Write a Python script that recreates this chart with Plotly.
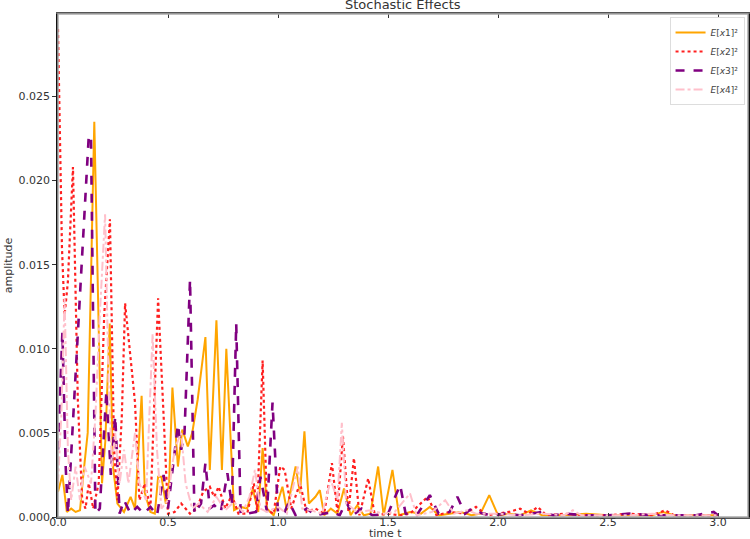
import plotly.graph_objects as go

# ---- data ----
t_x1 = [0.00,0.02,0.04,0.06,0.08,0.10,0.115,0.135,0.165,0.185,0.20,0.215,0.235,0.25,0.27,0.30,0.33,0.35,0.38,0.395,0.42,0.44,0.455,0.47,0.49,0.505,0.52,0.545,0.565,0.59,0.61,0.635,0.67,0.69,0.72,0.745,0.765,0.80,0.83,0.86,0.885,0.91,0.93,0.95,0.98,1.02,1.04,1.08,1.10,1.12,1.14,1.17,1.19,1.21,1.24,1.27,1.30,1.33,1.36,1.39,1.42,1.455,1.48,1.52,1.55,1.60,1.65,1.69,1.73,1.78,1.83,1.88,1.92,1.96,2.00,2.05,2.10,2.15,2.20,2.30,2.40,2.50,2.60,2.70,2.75,2.80,2.90,3.00]
y_x1 = [0.0015,0.0025,0.0003,0.0005,0.0003,0.0004,0.0025,0.005,0.0235,0.011,0.002,0.0045,0.0115,0.003,0.0008,0.0003,0.0012,0.0005,0.0072,0.0014,0.0003,0.0002,0.0024,0.0024,0.0008,0.002,0.0077,0.003,0.0052,0.0042,0.005,0.007,0.0107,0.0028,0.0117,0.0028,0.0100,0.0004,0.0006,0.0005,0.0017,0.0003,0.0041,0.0005,0.0001,0.0018,0.0004,0.003,0.0014,0.0051,0.0008,0.0012,0.0016,0.0001,0.0005,0.0002,0.0017,0.0001,0.0007,0.0001,0.0002,0.003,0.0001,0.0028,0.0001,0.0003,0.0002,0.0006,0.0001,0.0002,0.0003,0.0001,0.0002,0.0013,0.0001,0.0002,0.0001,0.0004,0.0001,0.0001,0.0002,0.0001,0.0001,0.0001,0.0003,0.0001,0.0001,0.0001]

t_x2 = [0.00,0.008,0.018,0.03,0.045,0.068,0.09,0.11,0.125,0.14,0.16,0.185,0.21,0.236,0.255,0.27,0.29,0.305,0.33,0.35,0.37,0.395,0.42,0.455,0.48,0.50,0.53,0.56,0.60,0.63,0.66,0.69,0.71,0.73,0.76,0.79,0.82,0.86,0.89,0.905,0.93,0.95,0.98,1.01,1.03,1.06,1.10,1.13,1.17,1.21,1.245,1.27,1.295,1.32,1.345,1.37,1.41,1.44,1.50,1.55,1.60,1.68,1.72,1.78,1.85,1.90,1.95,2.00,2.05,2.10,2.14,2.18,2.22,2.30,2.40,2.50,2.60,2.70,2.76,2.80,2.90,3.00]
y_x2 = [0.0290,0.024,0.016,0.012,0.014,0.0208,0.007,0.001,0.0005,0.002,0.0005,0.002,0.012,0.0177,0.004,0.001,0.006,0.0127,0.0095,0.0068,0.001,0.002,0.0005,0.013,0.006,0.0002,0.0003,0.0008,0.0002,0.0005,0.0015,0.0018,0.0012,0.0018,0.0005,0.0013,0.0002,0.0002,0.002,0.0004,0.0093,0.0004,0.0002,0.003,0.0028,0.0005,0.002,0.0003,0.0005,0.0002,0.0032,0.0003,0.0048,0.0003,0.0035,0.0001,0.0023,0.0001,0.0002,0.0001,0.0002,0.0012,0.0001,0.0003,0.0002,0.0006,0.0001,0.0002,0.0003,0.0005,0.0002,0.0006,0.0001,0.0002,0.0001,0.0001,0.0002,0.0001,0.0004,0.0001,0.0001,0.0001]

t_x3 = [0.00,0.02,0.035,0.045,0.14,0.15,0.17,0.19,0.22,0.24,0.26,0.28,0.30,0.33,0.36,0.39,0.42,0.45,0.48,0.50,0.545,0.56,0.575,0.60,0.62,0.65,0.67,0.69,0.71,0.74,0.77,0.79,0.81,0.83,0.86,0.90,0.92,0.95,0.975,1.00,1.03,1.05,1.08,1.13,1.17,1.25,1.28,1.31,1.34,1.38,1.43,1.50,1.555,1.58,1.63,1.69,1.73,1.78,1.815,1.85,1.88,1.93,1.98,2.03,2.10,2.20,2.25,2.30,2.40,2.50,2.60,2.70,2.80,2.90,2.98,3.00]
y_x3 = [0.004,0.011,0.003,0.0002,0.0227,0.0225,0.0002,0.0005,0.0075,0.0025,0.006,0.0002,0.001,0.0002,0.0006,0.0002,0.0006,0.0001,0.0025,0.0005,0.0055,0.004,0.005,0.0141,0.0002,0.0008,0.0032,0.0005,0.0007,0.0003,0.0026,0.0007,0.0115,0.0002,0.0002,0.0003,0.0024,0.0003,0.0068,0.0002,0.0003,0.0009,0.0001,0.0005,0.0001,0.0003,0.0001,0.0009,0.0001,0.0005,0.0001,0.0002,0.0019,0.0002,0.0001,0.0013,0.0002,0.0003,0.0012,0.0002,0.0005,0.0002,0.0001,0.0002,0.0001,0.0003,0.0001,0.0002,0.0001,0.0001,0.0002,0.0001,0.0001,0.0001,0.0003,0.0001]

t_x4 = [0.00,0.015,0.03,0.045,0.06,0.08,0.10,0.12,0.15,0.17,0.19,0.214,0.23,0.245,0.26,0.28,0.30,0.32,0.35,0.37,0.40,0.43,0.45,0.47,0.50,0.52,0.535,0.56,0.58,0.61,0.64,0.68,0.72,0.76,0.80,0.84,0.87,0.895,0.92,0.95,1.00,1.04,1.09,1.11,1.15,1.20,1.24,1.27,1.29,1.31,1.36,1.42,1.48,1.53,1.60,1.63,1.70,1.76,1.80,1.86,1.90,2.00,2.10,2.20,2.30,2.34,2.38,2.50,2.60,2.70,2.80,2.90,3.00]
y_x4 = [0.002,0.006,0.013,0.004,0.001,0.003,0.001,0.003,0.002,0.006,0.012,0.018,0.008,0.003,0.005,0.002,0.004,0.002,0.005,0.002,0.001,0.0109,0.004,0.0005,0.001,0.0032,0.0042,0.005,0.002,0.0005,0.0008,0.0003,0.0012,0.0004,0.0009,0.0003,0.0012,0.0028,0.0005,0.0003,0.0006,0.0002,0.003,0.0005,0.0004,0.0002,0.0022,0.001,0.0056,0.0008,0.0003,0.0004,0.0002,0.0003,0.0014,0.0001,0.0003,0.001,0.0002,0.0004,0.0002,0.0002,0.0001,0.0002,0.0001,0.0004,0.0001,0.0001,0.0001,0.0002,0.0001,0.0001,0.0001]

names = ["<i>E</i>[<i>x</i>1]²", "<i>E</i>[<i>x</i>2]²",
         "<i>E</i>[<i>x</i>3]²", "<i>E</i>[<i>x</i>4]²"]

x_ticks = [0.0, 0.5, 1.0, 1.5, 2.0, 2.5, 3.0]
y_ticks = [0.000, 0.005, 0.010, 0.015, 0.020, 0.025]

FONT = "DejaVu Sans"
fig = go.Figure()
series = [
    (t_x1, y_x1, names[0], "#FFA500", "solid", 2),
    (t_x2, y_x2, names[1], "#FF2020", "dot", 2.2),
    (t_x3, y_x3, names[2], "#800080", "dash", 2.6),
    (t_x4, y_x4, names[3], "#FFC0CB", "dashdot", 2),
]
for t, y, n, c, d, w in series:
    fig.add_trace(go.Scatter(x=t, y=y, mode="lines", name=n,
                             line=dict(color=c, dash=d, width=w)))

fig.update_layout(
    width=750, height=539,
    margin=dict(l=58, r=2, t=14, b=22),
    paper_bgcolor="white", plot_bgcolor="white",
    font=dict(family=FONT, size=11, color="#333"),
    title=dict(text="Stochastic Effects", x=0.537, xanchor="center",
               y=0.992, yanchor="middle", font=dict(size=13, color="#333")),
    showlegend=True,
    legend=dict(x=0.995, y=0.994, xanchor="right", yanchor="top",
                bgcolor="white", bordercolor="#ddd", borderwidth=1,
                font=dict(size=9, color="#444"), tracegroupgap=0,
                itemwidth=30),
    shapes=[dict(type="rect", xref="paper", yref="paper", x0=0, y0=0, x1=1, y1=1,
                 line=dict(color="#aaa", width=1.5), layer="above")],
    annotations=[dict(text="time t", xref="paper", yref="paper", x=0.475, y=-0.032,
                      xanchor="center", yanchor="middle", showarrow=False,
                      font=dict(size=11, color="#333"))],
)
fig.update_xaxes(range=[0, 3.136], tickvals=x_ticks,
                 ticktext=[f"{v:.1f}" for v in x_ticks],
                 ticks="inside", ticklen=4, tickcolor="#333", mirror="allticks",
                 showline=True, linecolor="#555", linewidth=1.5,
                 showgrid=False, zeroline=False, automargin=False,
                 ticklabelstandoff=-6,
                 tickfont=dict(size=11))
fig.update_yaxes(range=[0, 0.0299], tickvals=y_ticks,
                 ticktext=[f"{v:.3f}" for v in y_ticks],
                 ticks="outside", ticklen=4, tickcolor="#333", mirror="allticks",
                 showline=True, linecolor="#111", linewidth=1.5,
                 showgrid=False, zeroline=False, automargin=False,
                 title=dict(text="amplitude", standoff=4, font=dict(size=11)),
                 tickfont=dict(size=11))

fig.write_html("out.html")
